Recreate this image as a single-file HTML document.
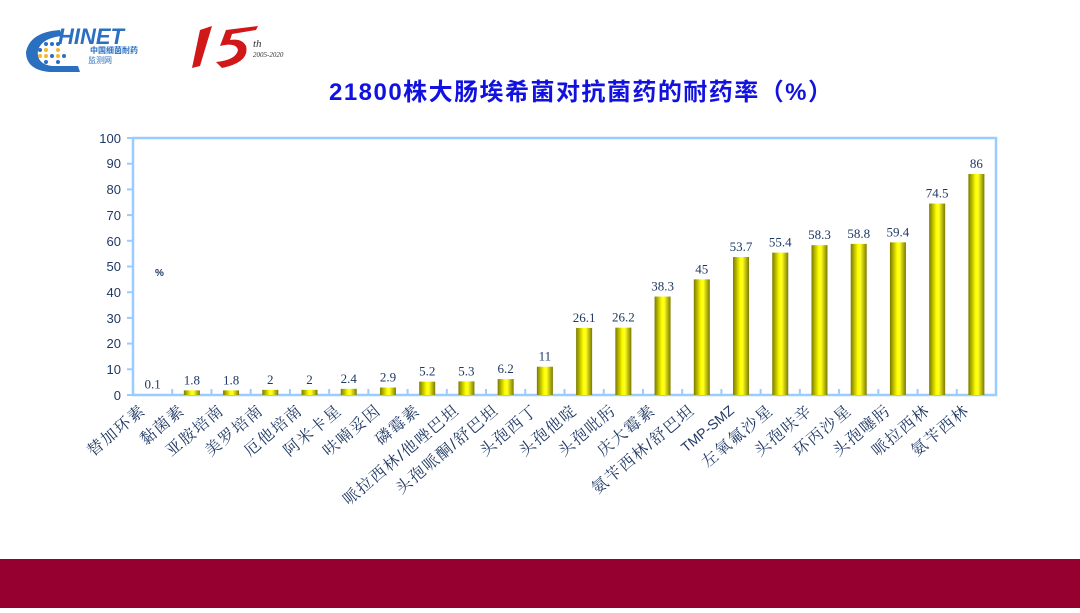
<!DOCTYPE html>
<html><head><meta charset="utf-8"><style>
html,body{margin:0;padding:0;background:#fff;}
body{width:1080px;height:608px;overflow:hidden;position:relative;font-family:"Liberation Sans","Noto Sans CJK SC",sans-serif;}
</style></head><body>
<svg width="1080" height="608" viewBox="0 0 1080 608" xmlns="http://www.w3.org/2000/svg">
<defs>
<linearGradient id="bg" x1="0" y1="0" x2="1" y2="0">
<stop offset="0" stop-color="#7a7a00"/><stop offset="0.45" stop-color="#ffff00"/><stop offset="0.6" stop-color="#ffff20"/><stop offset="1" stop-color="#7a7a00"/>
</linearGradient>
</defs>
<path d="M60 30 Q30 32 26 52 Q26 70 50 72 L80 72 L78 66 L52 66 Q36 64 38 50 Q42 38 62 36 Z" fill="#2a6fc0"/>
<g fill="#2a6fc0"><circle cx="46" cy="44" r="2"/><circle cx="52" cy="44" r="2"/><circle cx="58" cy="44" r="2"/><circle cx="40" cy="50" r="2"/><circle cx="52" cy="56" r="2"/><circle cx="46" cy="62" r="2"/><circle cx="58" cy="62" r="2"/><circle cx="64" cy="56" r="2"/></g>
<g fill="#f2b830"><circle cx="46" cy="50" r="2"/><circle cx="58" cy="50" r="2"/><circle cx="40" cy="56" r="2"/><circle cx="46" cy="56" r="2"/><circle cx="58" cy="56" r="2"/></g>
<text x="58" y="44" font-family="Liberation Sans" font-weight="bold" font-style="italic" font-size="22" fill="#2a6fc0">HINET</text>
<text x="90" y="53" font-family="Noto Sans CJK SC" font-weight="bold" font-size="8" fill="#2a6fc0">中国细菌耐药</text>
<text x="88" y="63" font-family="Noto Sans CJK SC" font-size="8" fill="#2a6fc0">监测网</text>
<path d="M200 30 L212 26 L200 66 L192 68 Z" fill="#d01818"/>
<path d="M258 26 L226 30 L220 46 Q236 42 238 50 Q236 60 216 62 L222 68 Q250 62 246 46 Q242 38 230 40 L232 34 L256 30 Z" fill="#d01818"/>
<text x="253" y="47" font-family="Liberation Serif" font-style="italic" font-size="11" fill="#333">th</text>
<text x="253" y="57" font-family="Liberation Serif" font-style="italic" font-size="7" fill="#333">2005-2020</text>
<text x="329" y="100" font-family="Liberation Sans,Noto Sans CJK SC,sans-serif" font-weight="bold" font-size="24" fill="#1212e0" textLength="503">21800株大肠埃希菌对抗菌药的耐药率（%）</text>
<rect x="133" y="138" width="863" height="257" fill="none" stroke="#99ccff" stroke-width="2.5"/>
<g stroke="#99ccff" stroke-width="2">
<line x1="127" y1="395" x2="133" y2="395"/><line x1="127" y1="369.3" x2="133" y2="369.3"/><line x1="127" y1="343.6" x2="133" y2="343.6"/><line x1="127" y1="317.9" x2="133" y2="317.9"/><line x1="127" y1="292.2" x2="133" y2="292.2"/><line x1="127" y1="266.5" x2="133" y2="266.5"/><line x1="127" y1="240.8" x2="133" y2="240.8"/><line x1="127" y1="215.1" x2="133" y2="215.1"/><line x1="127" y1="189.4" x2="133" y2="189.4"/><line x1="127" y1="163.7" x2="133" y2="163.7"/><line x1="127" y1="138" x2="133" y2="138"/>
</g>
<g font-family="Liberation Sans" font-size="13" fill="#1f3864" text-anchor="end">
<text x="121" y="400">0</text><text x="121" y="374">10</text><text x="121" y="348">20</text><text x="121" y="323">30</text><text x="121" y="297">40</text><text x="121" y="271">50</text><text x="121" y="246">60</text><text x="121" y="220">70</text><text x="121" y="194">80</text><text x="121" y="168">90</text><text x="121" y="143">100</text>
</g>
<text x="155" y="276" font-family="Liberation Sans" font-weight="bold" font-size="10" fill="#1f3864">%</text>
<g id="bars"></g>
<g id="vals" font-family="Liberation Serif" font-size="13" fill="#1f3864" text-anchor="middle"></g>
<g id="ticks" stroke="#99ccff" stroke-width="2"></g>
<g id="labels" font-family="Liberation Sans,Noto Serif CJK SC,serif" font-size="16" fill="#1f3864" text-anchor="end" letter-spacing="1.5"></g>
<rect x="0" y="559" width="1080" height="49" fill="#960030"/>
</svg>
<script>
const d=[["替加环素",0.1],["黏菌素",1.8],["亚胺培南",1.8],["美罗培南",2],["厄他培南",2],["阿米卡星",2.4],["呋喃妥因",2.9],["磷霉素",5.2],["哌拉西林/他唑巴坦",5.3],["头孢哌酮/舒巴坦",6.2],["头孢西丁",11],["头孢他啶",26.1],["头孢吡肟",26.2],["庆大霉素",38.3],["氨苄西林/舒巴坦",45],["TMP-SMZ",53.7],["左氧氟沙星",55.4],["头孢呋辛",58.3],["环丙沙星",58.8],["头孢噻肟",59.4],["哌拉西林",74.5],["氨苄西林",86]];
const ns="http://www.w3.org/2000/svg";
const w=863/22;
function el(t,a,p,txt){const e=document.createElementNS(ns,t);for(const k in a)e.setAttribute(k,a[k]);if(txt!==undefined)e.textContent=txt;document.getElementById(p).appendChild(e);}
d.forEach((v,i)=>{
const cx=133+w*(i+0.5);const h=v[1]*2.57;const y=395-h;
if(v[1]>0.5) el("rect",{x:cx-8,y:y,width:16,height:h,fill:"url(#bg)"},"bars");
el("text",{x:cx,y:y-6},"vals",String(v[1]));
if(i>0) el("line",{x1:133+w*i,y1:389,x2:133+w*i,y2:395},"ticks");
const lx=cx-6,ly=412;
const a={x:lx,y:ly,transform:`rotate(-40 ${lx} ${ly})`};
if(v[0]=="TMP-SMZ"){a["font-size"]="14";a["letter-spacing"]="0";}
el("text",a,"labels",v[0]);
});
</script>
</body></html>
